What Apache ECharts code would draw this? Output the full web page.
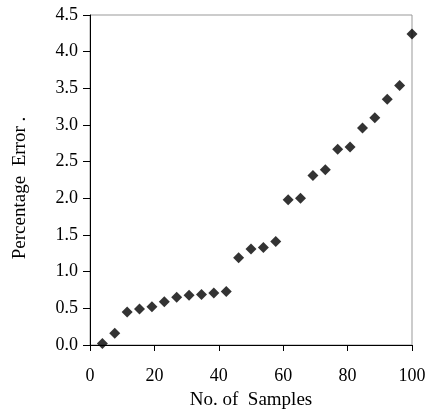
<!DOCTYPE html>
<html>
<head>
<meta charset="utf-8">
<script src="https://cdn.jsdelivr.net/npm/echarts@6/dist/echarts.min.js"></script>
<style>html,body{margin:0;padding:0;background:#fff}#c{width:430px;height:415px}</style>
</head>
<body>
<div id="c"></div>
<script>
var samples = [3.85, 7.69, 11.54, 15.38, 19.23, 23.08, 26.92, 30.77, 34.62, 38.46, 42.31, 46.15, 50.0,
               53.85, 57.69, 61.54, 65.38, 69.23, 73.08, 76.92, 80.77, 84.62, 88.46, 92.31, 96.15, 100.0];
var errors = [0.02, 0.16, 0.45, 0.49, 0.52, 0.59, 0.65, 0.68, 0.69, 0.71, 0.73, 1.19, 1.31,
              1.33, 1.41, 1.98, 2.00, 2.31, 2.39, 2.67, 2.70, 2.96, 3.10, 3.35, 3.54, 4.24];
var xTicks = [0, 20, 40, 60, 80, 100];
var yTicks = [0.0, 0.5, 1.0, 1.5, 2.0, 2.5, 3.0, 3.5, 4.0, 4.5];

var points = samples.map(function (s, i) { return [s, errors[i]]; });
var font = 'Liberation Serif';
var chart = echarts.init(document.getElementById('c'));
chart.setOption({
  animation: false,
  grid: { left: 90, top: 15, right: 18, bottom: 67, show: true, borderColor: '#999', borderWidth: 1, backgroundColor: 'transparent' },
  xAxis: {
    type: 'value', min: xTicks[0], max: xTicks[xTicks.length - 1], interval: 20,
    name: 'No. of  Samples', nameLocation: 'middle', nameGap: 46,
    nameTextStyle: { fontFamily: font, fontSize: 19, color: '#000' },
    axisLine: { show: true, onZero: false, lineStyle: { color: '#000', width: 1 } },
    axisTick: { show: true, inside: false, length: 6, lineStyle: { color: '#000' } },
    axisLabel: { fontFamily: font, fontSize: 18, color: '#000', margin: 22,
      formatter: function (v) { return String(v); } },
    splitLine: { show: false }
  },
  yAxis: {
    type: 'value', min: yTicks[0], max: yTicks[yTicks.length - 1], interval: 0.5,
    name: 'Percentage  Error .', nameLocation: 'middle', nameGap: 60, nameRotate: 90,
    nameTextStyle: { fontFamily: font, fontSize: 19, color: '#000', padding: [0, 16, 0, 0] },
    axisLine: { show: true, onZero: false, lineStyle: { color: '#000', width: 1 } },
    axisTick: { show: true, inside: false, length: 7, lineStyle: { color: '#000' } },
    axisLabel: { fontFamily: font, fontSize: 18, color: '#000', margin: 12,
      formatter: function (v) { return v.toFixed(1); } },
    splitLine: { show: false }
  },
  series: [{
    type: 'scatter', data: points, symbol: 'diamond', symbolSize: 11,
    itemStyle: { color: '#000' }
  }]
});
</script>
</body>
</html>
